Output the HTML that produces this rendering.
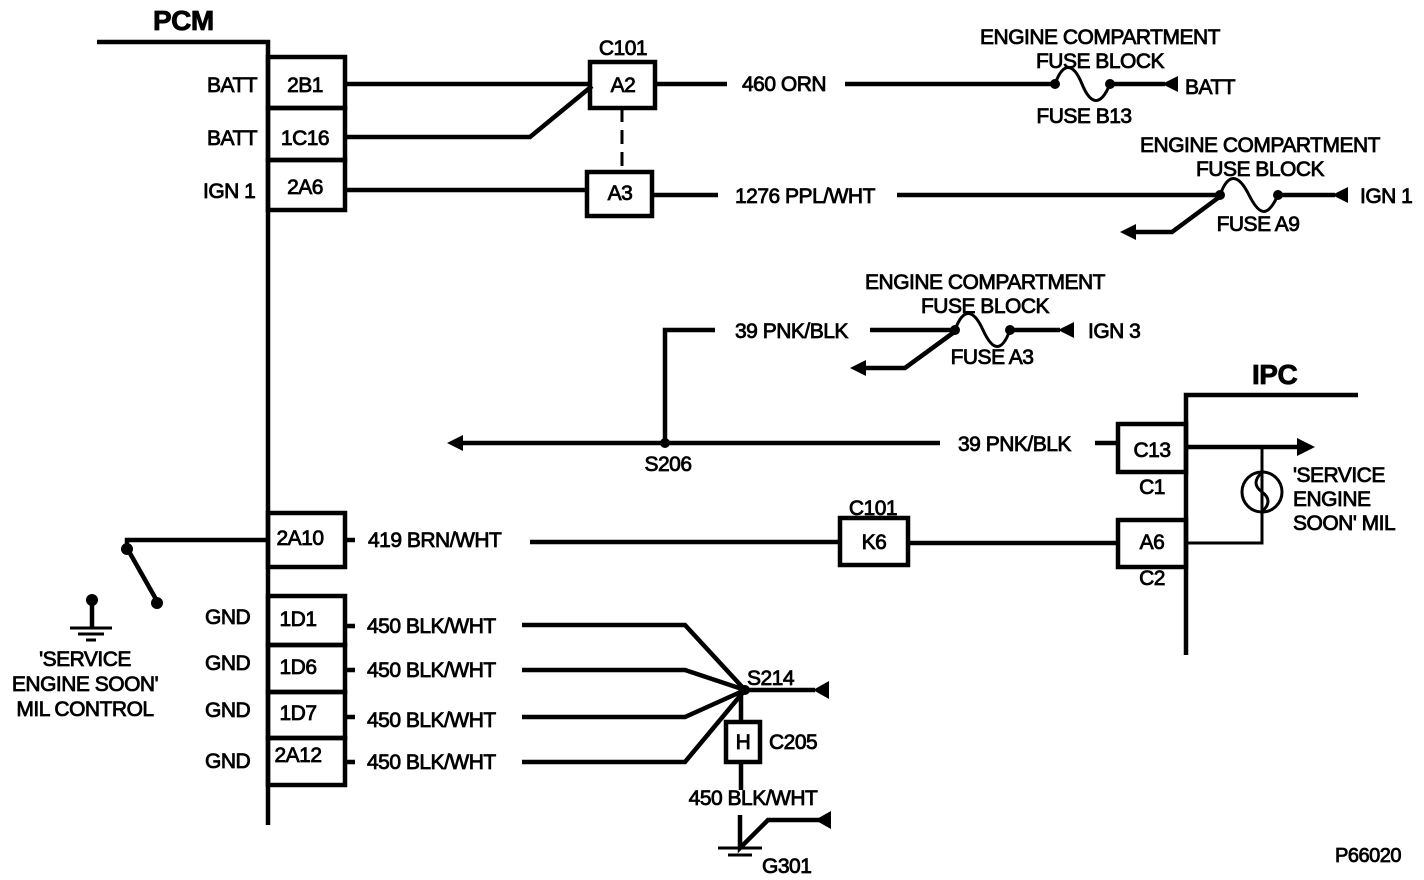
<!DOCTYPE html>
<html><head><style>
html,body{margin:0;padding:0;background:#fff;}
svg{display:block}
text{font-family:"Liberation Sans",Arial,sans-serif;font-size:21px;fill:#000;stroke:#000;stroke-width:0.8;letter-spacing:-0.5px}
.b{font-weight:bold;font-size:28px}
.m{text-anchor:middle}
</style></head><body>
<svg width="1424" height="880" viewBox="0 0 1424 880" xmlns="http://www.w3.org/2000/svg">
<g fill="none" stroke="#000" stroke-width="4.5">
<path d="M97 42H268V825"/>
<rect x="268" y="57" width="77" height="51"/>
<rect x="268" y="108" width="77" height="52"/>
<rect x="268" y="160" width="77" height="50"/>
<rect x="268" y="513" width="77" height="54"/>
<rect x="268" y="596" width="77" height="49"/>
<rect x="268" y="645" width="77" height="47"/>
<rect x="268" y="692" width="77" height="46"/>
<rect x="268" y="738" width="77" height="47"/>
<rect x="590" y="62" width="65" height="46"/>
<rect x="587" y="172" width="65" height="44"/>
<path d="M622 108V172" stroke-dasharray="14,8" stroke-width="3"/>
<path d="M345 84H590M345 137H530L592 86M345 190H587"/>
<path d="M655 84H727M845 84H1055M1110 84H1165"/>
<path d="M1055 84c8-22 18-22 27 0s19 22 28 0" stroke-width="3"/>
<path d="M652 195H718M897 195H1220M1278 195H1335"/>
<path d="M1220 195c8-22 18-22 29 0s19 22 29 0" stroke-width="3"/>
<path d="M1222 195L1172 232H1130"/>
<path d="M665 443V330H715M870 330H955M1010 330H1060"/>
<path d="M955 330c8-22 18-22 28 0s19 22 27 0" stroke-width="3"/>
<path d="M957 330L905 368H862"/>
<path d="M458 443H940M1095 443H1118"/>
<path d="M1186 655V395H1358"/>
<rect x="1118" y="424" width="68" height="48"/>
<rect x="1118" y="520" width="68" height="47"/>
<path d="M1186 447H1300"/>
<path d="M1186 543H1262V447" stroke-width="3"/>
<circle cx="1262" cy="492" r="20" stroke-width="3"/>
<path d="M1262 472c-8 8-8 14 0 20s8 12 0 20" stroke-width="3"/>
<path d="M345 540H355M530 542H840M908 543H1118"/>
<rect x="840" y="518" width="68" height="47"/>
<path d="M268 540H127V548L157 601"/>
<path d="M92 600V628"/>
<path d="M70 628H112M78 634H104M86 640H96" stroke-width="3"/>
<path d="M345 626H355M345 670H355M345 717H355M345 762H355"/>
<path d="M522 625H685L745 690M522 670H685L745 690M522 717H685L745 690M522 762H685L745 690"/>
<path d="M745 690H815M741 690V722"/>
<rect x="726" y="722" width="34" height="40"/>
<path d="M741 762V790M740 815V848L768 820H825"/>
<path d="M718 848H762M728 855H752" stroke-width="3"/>
</g>
<g fill="#000">
<circle cx="1055" cy="84" r="5"/><circle cx="1110" cy="84" r="5"/>
<circle cx="1220" cy="195" r="5"/><circle cx="1278" cy="195" r="5"/>
<circle cx="955" cy="330" r="5"/><circle cx="1010" cy="330" r="5"/>
<circle cx="665" cy="443" r="5"/><circle cx="745" cy="690" r="5"/>
<circle cx="127" cy="549" r="6"/><circle cx="157" cy="603" r="6"/><circle cx="92" cy="600" r="6"/>
<path d="M1162 84l16-8v16z"/><path d="M1332 195l16-8v16z"/>
<path d="M1058 330l16-8v16z"/><path d="M1120 232l16-8v16z"/>
<path d="M850 368l16-8v16z"/><path d="M447 443l16-8v16z"/>
<path d="M1315 447l-18-9v18z"/><path d="M813 690l16-9v18z"/>
<path d="M815 820l16-9v18z"/>
</g>
<text class="b" x="153" y="30">PCM</text>
<text class="b" x="1252" y="384">IPC</text>
<text x="207" y="92">BATT</text>
<text x="207" y="145">BATT</text>
<text x="203" y="198">IGN 1</text>
<text class="m" x="305" y="92">2B1</text>
<text class="m" x="305" y="145">1C16</text>
<text class="m" x="305" y="194">2A6</text>
<text class="m" x="623" y="55">C101</text>
<text class="m" x="623" y="92">A2</text>
<text class="m" x="620" y="200">A3</text>
<text x="742" y="91">460 ORN</text>
<text class="m" x="1100" y="44">ENGINE COMPARTMENT</text>
<text class="m" x="1100" y="68">FUSE BLOCK</text>
<text class="m" x="1084" y="123">FUSE B13</text>
<text x="1185" y="94">BATT</text>
<text x="735" y="203">1276 PPL/WHT</text>
<text class="m" x="1260" y="152">ENGINE COMPARTMENT</text>
<text class="m" x="1260" y="176">FUSE BLOCK</text>
<text class="m" x="1258" y="231">FUSE A9</text>
<text x="1360" y="203">IGN 1</text>
<text x="735" y="338">39 PNK/BLK</text>
<text class="m" x="985" y="289">ENGINE COMPARTMENT</text>
<text class="m" x="985" y="313">FUSE BLOCK</text>
<text class="m" x="992" y="364">FUSE A3</text>
<text x="1088" y="338">IGN 3</text>
<text class="m" x="668" y="471">S206</text>
<text x="958" y="451">39 PNK/BLK</text>
<text class="m" x="1152" y="457">C13</text>
<text class="m" x="1152" y="494">C1</text>
<text class="m" x="1152" y="549">A6</text>
<text class="m" x="1152" y="585">C2</text>
<text x="1293" y="482">'SERVICE</text>
<text x="1293" y="506">ENGINE</text>
<text x="1293" y="530">SOON' MIL</text>
<text class="m" x="300" y="545">2A10</text>
<text x="368" y="547">419 BRN/WHT</text>
<text class="m" x="873" y="515">C101</text>
<text class="m" x="874" y="549">K6</text>
<text class="m" x="85" y="666">'SERVICE</text>
<text class="m" x="85" y="691">ENGINE SOON'</text>
<text class="m" x="85" y="716">MIL CONTROL</text>
<text x="205" y="624">GND</text>
<text x="205" y="670">GND</text>
<text x="205" y="717">GND</text>
<text x="205" y="768">GND</text>
<text class="m" x="298" y="626">1D1</text>
<text class="m" x="298" y="674">1D6</text>
<text class="m" x="298" y="720">1D7</text>
<text class="m" x="298" y="762">2A12</text>
<text x="367" y="633">450 BLK/WHT</text>
<text x="367" y="677">450 BLK/WHT</text>
<text x="367" y="727">450 BLK/WHT</text>
<text x="367" y="769">450 BLK/WHT</text>
<text x="747" y="685">S214</text>
<text class="m" x="743" y="749">H</text>
<text x="769" y="749">C205</text>
<text class="m" x="753" y="805">450 BLK/WHT</text>
<text x="762" y="873">G301</text>
<text x="1335" y="862" style="font-size:20px">P66020</text>
</svg>
</body></html>
